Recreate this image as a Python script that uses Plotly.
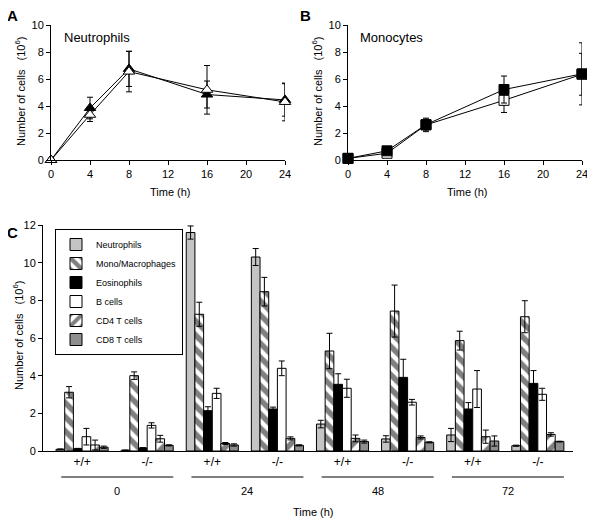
import plotly.graph_objects as go

# ---------------- Panel A / B data ----------------
time_h = [0, 4, 8, 16, 24]
neut_filled = [0.0, 3.85, 6.75, 4.85, 4.45]
neut_filled_err = [0.0, 0.8, 1.3, 1.0, 1.2]
neut_open = [0.0, 3.35, 6.55, 5.2, 4.3]
neut_open_err = [0.0, 0.5, 1.5, 1.8, 1.4]

mono_filled = [0.12, 0.68, 2.62, 5.22, 6.38]
mono_filled_err = [0.05, 0.15, 0.4, 1.0, 2.3]
mono_open = [0.12, 0.5, 2.6, 4.42, 6.35]
mono_open_err = [0.05, 0.1, 0.5, 0.9, 1.55]

# ---------------- Panel C data ----------------
genotypes = ["+/+", "-/-", "+/+", "-/-", "+/+", "-/-", "+/+", "-/-"]
time_groups = ["0", "24", "48", "72"]

neutrophils = [0.09, 0.04, 11.6, 10.3, 1.43, 0.64, 0.85, 0.28]
neutrophils_err = [0.02, 0.01, 0.35, 0.45, 0.2, 0.17, 0.35, 0.03]
mono_macro = [3.12, 4.0, 7.26, 8.46, 5.31, 7.43, 5.86, 7.13]
mono_macro_err = [0.3, 0.2, 0.64, 0.76, 0.94, 1.38, 0.5, 0.85]
eosinophils = [0.12, 0.16, 2.14, 2.23, 3.54, 3.91, 2.23, 3.59]
eosinophils_err = [0.02, 0.02, 0.21, 0.1, 0.56, 0.96, 0.34, 0.68]
b_cells = [0.76, 1.36, 3.06, 4.39, 3.33, 2.59, 3.29, 3.01]
b_cells_err = [0.44, 0.14, 0.27, 0.39, 0.48, 0.15, 0.98, 0.32]
cd4_t = [0.32, 0.65, 0.4, 0.67, 0.67, 0.72, 0.76, 0.88]
cd4_t_err = [0.26, 0.18, 0.05, 0.08, 0.18, 0.08, 0.35, 0.09]
cd8_t = [0.2, 0.3, 0.32, 0.3, 0.5, 0.46, 0.53, 0.5]
cd8_t_err = [0.06, 0.03, 0.06, 0.03, 0.08, 0.03, 0.27, 0.02]

# page body has an 8px default margin; lay out in window pixels
OFF = 8
W, H = 595 - OFF, 524 - OFF
FONT = "Arial, Liberation Sans, sans-serif"

def px_x(p):
    return (p - OFF) / W

def px_y(p):
    return 1 - (p - OFF) / H

fig = go.Figure()

def err(vals):
    return dict(type="data", array=vals, visible=True, color="black", thickness=1, width=3)

# Panel A
fig.add_trace(go.Scatter(x=time_h, y=neut_filled, error_y=err(neut_filled_err),
                         mode="lines+markers", line=dict(color="black", width=1),
                         marker=dict(symbol="triangle-up", size=10, color="black",
                                     line=dict(color="black", width=1)),
                         cliponaxis=False, showlegend=False, xaxis="x", yaxis="y"))
fig.add_trace(go.Scatter(x=time_h, y=neut_open, error_y=err(neut_open_err),
                         mode="lines+markers", line=dict(color="black", width=1),
                         marker=dict(symbol="triangle-up", size=10, color="white",
                                     line=dict(color="black", width=1)),
                         cliponaxis=False, showlegend=False, xaxis="x", yaxis="y"))
# Panel B
fig.add_trace(go.Scatter(x=time_h, y=mono_open, error_y=err(mono_open_err),
                         mode="lines+markers", line=dict(color="black", width=1),
                         marker=dict(symbol="square", size=10, color="white",
                                     line=dict(color="black", width=1)),
                         cliponaxis=False, showlegend=False, xaxis="x2", yaxis="y2"))
fig.add_trace(go.Scatter(x=time_h, y=mono_filled, error_y=err(mono_filled_err),
                         mode="lines+markers", line=dict(color="black", width=1),
                         marker=dict(symbol="square", size=10, color="black",
                                     line=dict(color="black", width=1)),
                         cliponaxis=False, showlegend=False, xaxis="x2", yaxis="y2"))

# Panel C
x_pos = list(range(len(genotypes)))
series = [
    ("Neutrophils", neutrophils, neutrophils_err, dict(color="#c4c4c4")),
    ("Mono/Macrophages", mono_macro, mono_macro_err,
     dict(color="white", pattern=dict(shape="\\", size=10, solidity=0.55, fgcolor="black", bgcolor="white"))),
    ("Eosinophils", eosinophils, eosinophils_err, dict(color="black")),
    ("B cells", b_cells, b_cells_err, dict(color="white")),
    ("CD4 T cells", cd4_t, cd4_t_err,
     dict(color="white", pattern=dict(shape="/", size=11, solidity=0.5, fgcolor="black", bgcolor="white"))),
    ("CD8 T cells", cd8_t, cd8_t_err, dict(color="#8e8e8e")),
]
for name, vals, errs, mk in series:
    mk = dict(mk)
    mk["line"] = dict(color="black", width=1)
    fig.add_trace(go.Bar(x=x_pos, y=vals, name=name, marker=mk, error_y=err(errs),
                         xaxis="x3", yaxis="y3", cliponaxis=False))

# Axis definitions
a_x = [px_x(51), px_x(285)]
b_x = [px_x(348), px_x(582)]
ab_y = [px_y(160), px_y(25)]
c_x = [px_x(43), px_x(573)]
c_y = [px_y(451), px_y(225)]

axis_common = dict(showline=True, linecolor="black", linewidth=1, ticks="outside",
                   ticklen=4, tickcolor="black", showgrid=False, zeroline=False,
                   automargin=False,
                   tickfont=dict(family=FONT, size=11, color="black"))

ytitle = "Number of cells   (10<sup>6</sup>)"

fig.update_layout(
    width=W, height=H, margin=dict(l=0, r=0, t=0, b=0, autoexpand=False),
    plot_bgcolor="white", paper_bgcolor="white",
    font=dict(family=FONT, size=11, color="black"),
    barmode="group", bargap=0.2, bargroupgap=0,
    xaxis=dict(domain=a_x, anchor="y", range=[0, 24], tickvals=[0, 4, 8, 12, 16, 20, 24],
               **axis_common),
    yaxis=dict(domain=ab_y, anchor="x", range=[0, 10], tickvals=[0, 2, 4, 6, 8, 10],
               **axis_common),
    xaxis2=dict(domain=b_x, anchor="y2", range=[0, 24], tickvals=[0, 4, 8, 12, 16, 20, 24],
                **axis_common),
    yaxis2=dict(domain=ab_y, anchor="x2", range=[0, 10], tickvals=[0, 2, 4, 6, 8, 10],
                **axis_common),
    xaxis3=dict(domain=c_x, anchor="y3", range=[-0.6, 7.54], tickvals=x_pos, ticktext=genotypes,
                showline=True, linecolor="black", linewidth=1, ticks="", showgrid=False,
                zeroline=False, automargin=False,
                tickfont=dict(family=FONT, size=12, color="black")),
    yaxis3=dict(domain=c_y, anchor="x3", range=[0, 12], tickvals=[0, 2, 4, 6, 8, 10, 12],
                **axis_common),
    legend=dict(x=px_x(55), y=px_y(229), xanchor="left", yanchor="top",
                bordercolor="black", borderwidth=1, bgcolor="white",
                font=dict(family=FONT, size=9, color="black"), traceorder="normal",
                tracegroupgap=0, itemwidth=30),
)

def ann(text, x, y, size=11, anchor="center", angle=0):
    return dict(text=text, x=px_x(x), y=px_y(y), xref="paper", yref="paper", showarrow=False,
                xanchor=anchor, yanchor="middle", textangle=angle, font=dict(size=size))

annotations = [
    ann("<b>A</b>", 5, 15, 15, "left"),
    ann("<b>B</b>", 298, 15, 15, "left"),
    ann("<b>C</b>", 5, 232, 15, "left"),
    ann("Neutrophils", 62, 38, 13, "left"),
    ann("Monocytes", 358, 38, 13, "left"),
    ann("Time (h)", 170, 192),
    ann("Time (h)", 467, 192),
    ann(ytitle, 20, 92, angle=-90),
    ann(ytitle, 317, 92, angle=-90),
    ann(ytitle, 18, 336, angle=-90),
    ann("Time (h)", 313, 512),
]
shapes = []
for i, t in enumerate(time_groups):
    x0 = 2 * i - 0.32
    x1 = 2 * i + 1.4
    shapes.append(dict(type="line", xref="x3", yref="paper", x0=x0, x1=x1,
                       y0=px_y(477), y1=px_y(477), line=dict(color="black", width=1)))
    annotations.append(dict(text=t, x=(x0 + x1) / 2, y=px_y(491), xref="x3", yref="paper",
                            showarrow=False, xanchor="center", yanchor="middle",
                            font=dict(size=11)))

fig.update_layout(annotations=annotations, shapes=shapes)
fig.write_html("out.html")
